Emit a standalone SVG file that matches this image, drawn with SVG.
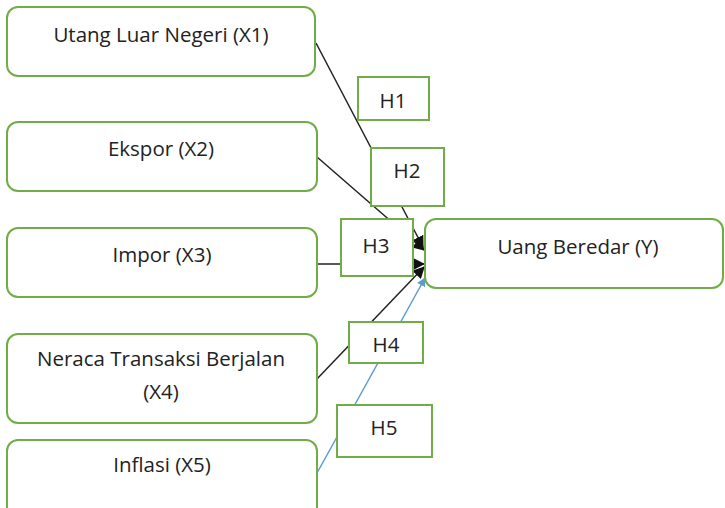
<svg xmlns="http://www.w3.org/2000/svg" width="725" height="508" viewBox="0 0 725 508">
<style>
.node{fill:#fff;stroke:#70AD47;stroke-width:2}
.hbox{fill:#fff;stroke:#70AD47;stroke-width:2}
.t{font-family:"Open Sans","Liberation Sans",sans-serif;font-size:20.5px;fill:#222;text-anchor:middle}
.c{fill:none;stroke:#222;stroke-width:1.5}
.cb{fill:none;stroke:#5B9BD5;stroke-width:1.5}
</style>
<defs>
<marker id="ah" viewBox="0 0 10 10" refX="9" refY="5" markerWidth="8" markerHeight="8" orient="auto" markerUnits="strokeWidth"><path d="M0,0L10,5L0,10z" fill="#111"/></marker>
<marker id="ab" viewBox="0 0 10 10" refX="9" refY="5" markerWidth="6" markerHeight="6" orient="auto" markerUnits="strokeWidth"><path d="M0,0L10,5L0,10z" fill="#5B9BD5"/></marker>
</defs>
<g id="connectors">
<line class="c" x1="316" y1="43" x2="423" y2="247" marker-end="url(#ah)"/>
<line class="c" x1="317" y1="157" x2="424" y2="250" marker-end="url(#ah)"/>
<line class="c" x1="317" y1="264" x2="424" y2="264" marker-end="url(#ah)"/>
<line class="c" x1="316" y1="380" x2="424" y2="267" marker-end="url(#ah)"/>
<line class="cb" x1="317" y1="473" x2="425" y2="278" marker-end="url(#ab)"/>
</g>
<g id="X1"><rect class="node" x="7" y="7" width="308" height="69" rx="11"/><text class="t" x="161" y="42">Utang Luar Negeri (X1)</text></g>
<g id="X2"><rect class="node" x="7" y="122" width="310" height="69" rx="11"/><text class="t" x="161" y="156">Ekspor (X2)</text></g>
<g id="X3"><rect class="node" x="7" y="228" width="310" height="69" rx="11"/><text class="t" x="162" y="262">Impor (X3)</text></g>
<g id="X4"><rect class="node" x="7" y="334" width="310" height="89" rx="11"/><text class="t" x="161" y="366">Neraca Transaksi Berjalan</text><text class="t" x="161" y="399">(X4)</text></g>
<g id="X5"><rect class="node" x="7" y="440" width="310" height="80" rx="11"/><text class="t" x="162" y="472">Inflasi (X5)</text></g>
<g id="Y"><rect class="node" x="425" y="219" width="298" height="69" rx="11"/><text class="t" x="578" y="254">Uang Beredar (Y)</text></g>
<g id="H1"><rect class="hbox" x="358" y="77" width="71" height="43"/><text class="t" x="393" y="108">H1</text></g>
<g id="H2"><rect class="hbox" x="371" y="148" width="73" height="58"/><text class="t" x="407" y="178">H2</text></g>
<g id="H3"><rect class="hbox" x="341" y="219" width="72" height="57"/><text class="t" x="376" y="253">H3</text></g>
<g id="H4"><rect class="hbox" x="349" y="322" width="74" height="41"/><text class="t" x="386" y="352">H4</text></g>
<g id="H5"><rect class="hbox" x="337" y="405" width="95" height="52"/><text class="t" x="384" y="435">H5</text></g>
</svg>
